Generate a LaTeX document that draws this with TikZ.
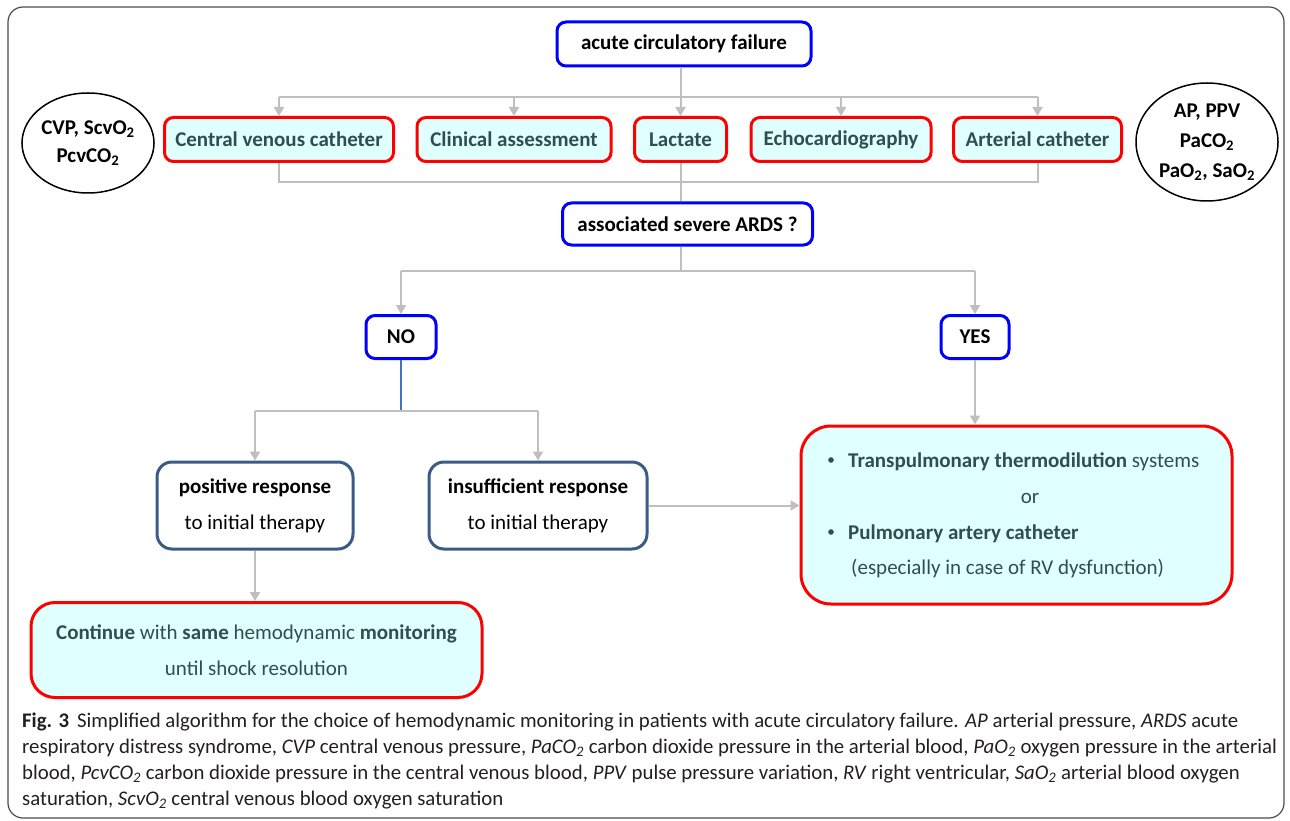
\documentclass[tikz,border=0pt]{standalone}
\usepackage{fontspec}
\setmainfont{Carlito}
\usetikzlibrary{arrows.meta,shapes.geometric}

\definecolor{boxred}{RGB}{255,0,0}
\definecolor{boxblue}{RGB}{0,0,255}
\definecolor{respblue}{RGB}{59,91,135}
\definecolor{linkgray}{RGB}{191,191,191}
\definecolor{nolink}{RGB}{68,114,196}
\definecolor{slate}{RGB}{47,79,79}
\definecolor{cyanfill}{RGB}{224,255,255}
\definecolor{captext}{RGB}{35,31,32}

\tikzset{
  monbox/.style={draw=boxred, line width=3pt, fill=cyanfill, rounded corners=9pt,
    text=slate, font=\bfseries\fontsize{21}{24}\selectfont, inner sep=0pt},
  keybox/.style={draw=boxblue, line width=3pt, fill=white, rounded corners=9pt,
    font=\bfseries\fontsize{21}{24}\selectfont, inner sep=0pt},
  respbox/.style={draw=respblue, line width=3pt, fill=white, rounded corners=15pt,
    align=center, font=\fontsize{21}{36}\selectfont, inner sep=0pt},
  paramell/.style={ellipse, draw, line width=1.5pt, align=center, inner sep=0pt},
  link/.style={draw=linkgray, line width=2pt},
  tolink/.style={link, -{Triangle[width=10pt,length=9pt]}},
  captionline/.style={anchor=base west, text=captext, inner sep=0pt,
    font=\fontsize{20.8}{26}\selectfont},
}

\begin{document}
\begin{tikzpicture}[x=1pt,y=-1pt]

\useasboundingbox (0,0) rectangle (1290,821);

% Frame
\draw[line width=1.2pt, draw=black!70, rounded corners=15pt] (8,7) rectangle (1284,818);

% Start
\node[keybox, minimum width=254, minimum height=44] (acf) at (684,44) {acute circulatory failure};

% Monitoring tools
\node[monbox, minimum width=229, minimum height=44] (cvc) at (279,139.5) {Central venous catheter};
\node[monbox, minimum width=194, minimum height=44] (clin) at (514,139.5) {Clinical assessment};
\node[monbox, minimum width=92, minimum height=44] (lac) at (680.5,139.5) {Lactate};
\node[monbox, minimum width=180, minimum height=44] (echo) at (841,139.5) {Echocardiography};
\node[monbox, minimum width=168, minimum height=44] (art) at (1037.5,139.5) {Arterial catheter};

% Measured variables
\node[paramell, minimum width=130, minimum height=100,
  font=\bfseries\fontsize{21}{28}\selectfont] (venvars) at (88,143)
  {CVP, ScvO\textsubscript{2}\\PcvCO\textsubscript{2}};
\node[paramell, minimum width=142, minimum height=118,
  font=\bfseries\fontsize{21}{30}\selectfont] (artvars) at (1207,142)
  {AP, PPV\\PaCO\textsubscript{2}\\PaO\textsubscript{2}, SaO\textsubscript{2}};

% ARDS question
\node[keybox, minimum width=250, minimum height=42] (ards) at (687.5,224) {associated severe ARDS ?};
\node[keybox, minimum width=70, minimum height=43] (no) at (401,337) {NO};
\node[keybox, minimum width=68, minimum height=43] (yes) at (975,337) {YES};

% Response
\node[respbox, minimum width=196, minimum height=87] (pos) at (255,505.5)
  {\textbf{positive response}\\to initial therapy};
\node[respbox, minimum width=218, minimum height=87] (insuf) at (538,505.5)
  {\textbf{insufficient response}\\to initial therapy};

% Advanced monitoring
\node[monbox, rounded corners=30pt, minimum width=431, minimum height=178] (adv) at (1016.5,515) {};
\begin{scope}[font=\fontsize{21}{24}\selectfont, text=slate, inner sep=0pt]
  \node[anchor=base west] (tpt) at (848,467) {\textbf{Transpulmonary thermodilution} systems};
  \node[anchor=base] (orword) at (1030,503) {or};
  \node[anchor=base west] (pac) at (848,539) {\textbf{Pulmonary artery catheter}};
  \node[anchor=base west] (rvd) at (851,574) {(especially in case of RV dysfunction)};
  \fill[slate] (831,460) circle (2.8pt);
  \fill[slate] (831,532) circle (2.8pt);
\end{scope}

\node[monbox, rounded corners=24pt, minimum width=451, minimum height=95,
  align=center, font=\fontsize{21}{36}\selectfont] (cont) at (256.5,650)
  {\textbf{Continue} with \textbf{same} hemodynamic \textbf{monitoring}\\until shock resolution};

% Connectors, top
\coordinate (topbus) at (0,97);
\coordinate (lowbus) at (0,182);
\draw[link] (cvc |- topbus) -- (art |- topbus);
\draw[link] (acf.south -| lac) -- (lac |- topbus);
\foreach \n in {cvc,clin,lac,echo,art}
  \draw[tolink] (\n |- topbus) -- (\n.north);
\draw[link] (cvc.south) -- (cvc |- lowbus) -- (art |- lowbus) -- (art.south);
\draw[link] (lac.south) -- (ards.north -| lac);

% Connectors, ARDS
\coordinate (ardsbus) at (0,271);
\draw[link] (ards.south -| lac) -- (lac |- ardsbus);
\draw[link] (no |- ardsbus) -- (yes |- ardsbus);
\draw[tolink] (no |- ardsbus) -- (no.north);
\draw[tolink] (yes |- ardsbus) -- (yes.north);
\draw[tolink] (yes.south) -- (adv.north -| yes);

% Connectors, response
\coordinate (nobus) at (0,411);
\draw[nolink, line width=1.5pt] (no.south) -- (no |- nobus);
\draw[link] (pos |- nobus) -- (insuf |- nobus);
\draw[tolink] (pos |- nobus) -- (pos.north);
\draw[tolink] (insuf |- nobus) -- (insuf.north);
\draw[tolink] (insuf.east) -- (adv.west |- insuf.east);
\draw[tolink] (pos.south) -- (cont.north -| pos);

% Caption
\node[captionline] (cap1) at (22,727) {\textbf{Fig. 3}\hspace{8pt}Simplified algorithm for the choice of hemodynamic monitoring in patients with acute circulatory failure. \textit{AP} arterial pressure, \textit{ARDS} acute};
\node[captionline] (cap2) at (22,753) {respiratory distress syndrome, \textit{CVP} central venous pressure, \textit{PaCO\textsubscript{2}} carbon dioxide pressure in the arterial blood, \textit{PaO\textsubscript{2}} oxygen pressure in the arterial};
\node[captionline] (cap3) at (22,779) {blood, \textit{PcvCO\textsubscript{2}} carbon dioxide pressure in the central venous blood, \textit{PPV} pulse pressure variation, \textit{RV} right ventricular, \textit{SaO\textsubscript{2}} arterial blood oxygen};
\node[captionline] (cap4) at (22,805) {saturation, \textit{ScvO\textsubscript{2}} central venous blood oxygen saturation};

\end{tikzpicture}
\end{document}
